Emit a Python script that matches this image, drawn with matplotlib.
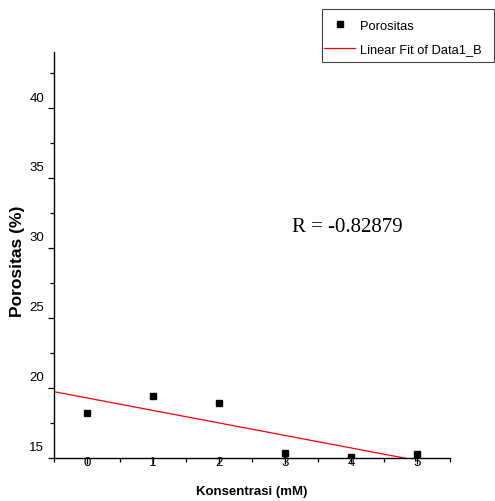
import matplotlib
matplotlib.use("Agg")
import matplotlib.pyplot as plt
import numpy as np
from matplotlib.transforms import ScaledTranslation
from matplotlib.patches import Rectangle

konsentrasi = [0, 1, 2, 3, 4, 5]
porositas = [18.25, 19.4, 18.95, 15.35, 15.1, 15.3]
yticks = [15, 20, 25, 30, 35, 40]
xticks = [0, 1, 2, 3, 4, 5]
r_text = 'R = -0.82879'

plt.rcParams['font.family'] = ['Liberation Sans', 'DejaVu Sans']

fig = plt.figure(figsize=(4.95, 5.02), dpi=100)
ax = fig.add_axes([54/495, 1 - 459/502, (450-54)/495, (459-53)/502])

x = np.array(konsentrasi, dtype=float)
y = np.array(porositas, dtype=float)
slope, intercept = np.polyfit(x, y, 1)

xl = np.linspace(-0.5, 5.5, 200)
ax.plot(xl, intercept + slope * xl, color='red', lw=0.9, label='Linear Fit of Data1_B')
ax.plot(x, y, 's', color='black', ms=4.5, label='Porositas', zorder=3)

ax.set_xlim(-0.5, 5.5)
ax.set_ylim(15, 44)
ax.set_xticks(xticks)
ax.set_xticks(np.arange(-0.5, 5.6, 0.5), minor=True)
ax.set_yticks(yticks)
ax.set_yticks(np.arange(15, 44, 2.5), minor=True)

for s in ['top', 'right']:
    ax.spines[s].set_visible(False)
for s in ['left', 'bottom']:
    ax.spines[s].set_linewidth(1.0)

ax.tick_params(axis='both', which='major', direction='out', length=4.5, width=0.9, labelsize=9.5)
ax.tick_params(axis='both', which='minor', direction='out', length=3, width=0.9)
ax.tick_params(axis='x', which='major', pad=-6.0)
ax.tick_params(axis='y', which='major', pad=2.5)

offset = ScaledTranslation(0, 0.12, fig.dpi_scale_trans)
for lab in ax.get_yticklabels():
    lab.set_transform(lab.get_transform() + offset)

ax.set_xlabel('Konsentrasi (mM)', fontsize=9.5, fontweight='bold', labelpad=12)
ax.set_ylabel('Porositas (%)', fontsize=12.5, fontweight='bold')
ax.yaxis.set_label_coords(-0.073, 0.488)

ax.text(292/495, 1 - 228/502, r_text, transform=fig.transFigure,
        fontsize=15, family=['Liberation Serif', 'DejaVu Serif'], va='center', ha='left')

handles, labels = ax.get_legend_handles_labels()
leg = fig.legend(handles[::-1], labels[::-1], loc='upper left',
                 bbox_to_anchor=(324/495, 1 - 20.5/502), frameon=False,
                 fontsize=9.3, handlelength=2.4, borderpad=0,
                 labelspacing=0.9, handletextpad=0.4, borderaxespad=0)
fig.patches.append(Rectangle((322/495, 1 - 63/502), 172/495, 53/502,
                             transform=fig.transFigure, fill=False,
                             edgecolor='#444444', lw=0.8))

fig.savefig('out.png', dpi=100)
